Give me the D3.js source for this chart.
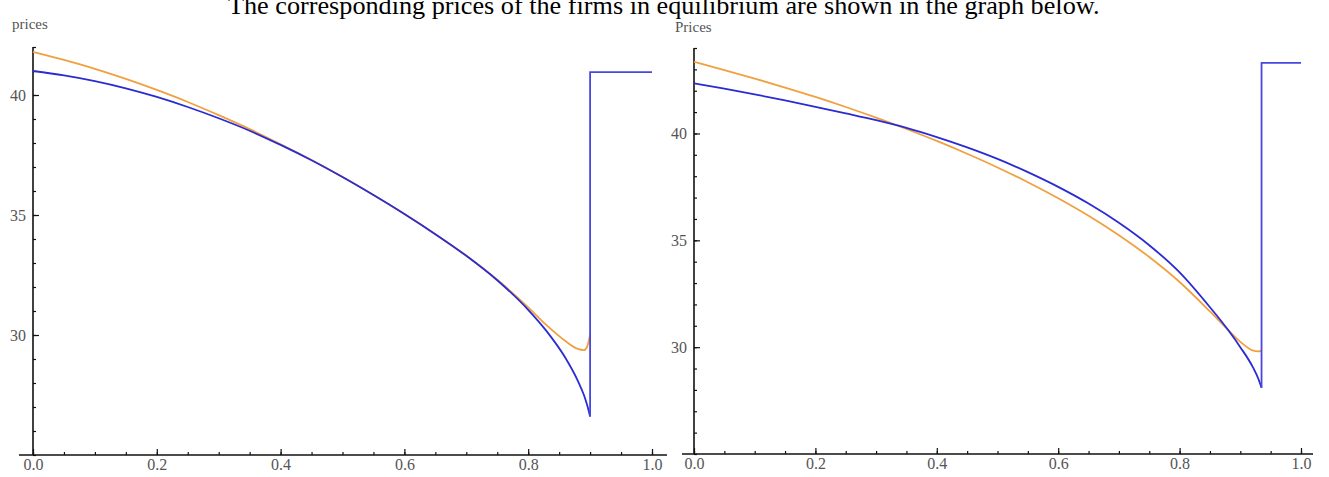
<!DOCTYPE html>
<html>
<head>
<meta charset="utf-8">
<script src="https://cdn.jsdelivr.net/npm/d3@7"></script>
<style>
  body { margin: 0; background: #fff; }
  svg { display: block; }
  .tick text { font-family: "Liberation Serif", "Times New Roman", serif; fill: #555; }
</style>
</head>
<body>
<div id="chart"></div>
<script>
// chart data

var titleText = 'The corresponding prices of the firms in equilibrium are shown in the graph below.';

var xMajor = [0, 0.2, 0.4, 0.6, 0.8, 1.0];

// left panel
var leftX      = [0, 0.05, 0.1, 0.15, 0.2, 0.25, 0.3, 0.35, 0.4, 0.45, 0.5, 0.55, 0.6, 0.65, 0.7, 0.75, 0.8, 0.83, 0.86, 0.88, 0.89, 0.895, 0.9];
var leftOrange = [41.8, 41.46, 41.09, 40.67, 40.21, 39.71, 39.16, 38.58, 37.95, 37.29, 36.58, 35.83, 35.04, 34.2, 33.3, 32.3, 31.15, 30.4, 29.75, 29.42, 29.37, 29.5, 30.0];
var leftBlue   = [41.0, 40.82, 40.58, 40.28, 39.92, 39.5, 39.03, 38.51, 37.92, 37.28, 36.58, 35.83, 35.04, 34.2, 33.3, 32.28, 31.05, 30.15, 29.05, 28.1, 27.5, 27.1, 26.6];
var leftJump   = { x: 0.9, high: 40.95 };
var leftYMajor = [30, 35, 40];

// right panel
var rightX      = [0, 0.05, 0.1, 0.15, 0.2, 0.25, 0.3, 0.35, 0.4, 0.45, 0.5, 0.55, 0.6, 0.65, 0.7, 0.75, 0.8, 0.85, 0.88, 0.9, 0.92, 0.93, 0.935];
var rightOrange = [43.35, 42.97, 42.57, 42.15, 41.71, 41.24, 40.74, 40.21, 39.65, 39.05, 38.41, 37.72, 36.97, 36.15, 35.24, 34.22, 33.05, 31.67, 30.8, 30.25, 29.85, 29.8, 29.85];
var rightBlue   = [42.35, 42.1, 41.83, 41.55, 41.25, 40.94, 40.62, 40.26, 39.83, 39.35, 38.81, 38.19, 37.5, 36.72, 35.82, 34.77, 33.5, 31.87, 30.8, 30.0, 29.1, 28.5, 28.1];
var rightJump   = { x: 0.935, high: 43.3 };
var rightYMajor = [30, 35, 40];

var W = 1329, H = 477;
var BLUE = '#2b2bd2', ORANGE = '#f0a040';
var SERIF = '"Liberation Serif", "Times New Roman", serif';

var svg = d3.select('#chart').append('svg')
    .attr('width', W)
    .attr('height', H);

// title, cut off at the top edge like in the scan
var title = svg.append('text')
    .attr('x', 228)
    .attr('y', 14)
    .attr('font-family', SERIF)
    .attr('font-size', 26)
    .attr('fill', '#000')
    .text(titleText);
// stretch to the width it has in the scan (228 .. 1100)
var tw = title.node().getComputedTextLength();
title.attr('font-size', 26 * 872 / tw);

drawPanel({
    label: 'prices', labelX: 12, labelY: 29,
    xRange: [33, 652], axisLeft: 19, axisRight: 667,
    yDomain: [25, 42], yRange: [455, 47],
    xs: leftX, orange: leftOrange, blue: leftBlue, jump: leftJump,
    yMajor: leftYMajor
});

drawPanel({
    label: 'Prices', labelX: 675, labelY: 32,
    xRange: [694, 1301], axisLeft: 682, axisRight: 1313,
    yDomain: [25, 44], yRange: [454, 48],
    xs: rightX, orange: rightOrange, blue: rightBlue, jump: rightJump,
    yMajor: rightYMajor
});

function drawPanel(p) {
    var x = d3.scaleLinear().domain([0, 1]).range(p.xRange);
    var y = d3.scaleLinear().domain(p.yDomain).range(p.yRange);
    var x0 = x(0), y0 = y(p.yDomain[0]);

    var g = svg.append('g');

    // minor ticks first, majors on top
    var xMinor = d3.range(0, 1.0001, 0.05).map(function (v) { return +v.toFixed(2); });
    var yMinor = d3.range(Math.ceil(p.yDomain[0]), p.yDomain[1] + 0.001, 1);

    g.append('g')
        .attr('transform', 'translate(0,' + y0 + ')')
        .call(d3.axisBottom(x).tickValues(xMinor).tickSize(-3).tickFormat(''))
        .call(cleanAxis);

    g.append('g')
        .attr('transform', 'translate(0,' + y0 + ')')
        .call(d3.axisBottom(x).tickValues(xMajor).tickSize(-6).tickPadding(4)
            .tickFormat(d3.format('.1f')))
        .call(cleanAxis)
        .selectAll('text')
        .attr('font-size', 16);

    g.append('g')
        .attr('transform', 'translate(' + x0 + ',0)')
        .call(d3.axisLeft(y).tickValues(yMinor).tickSize(-3).tickFormat(''))
        .call(cleanAxis);

    g.append('g')
        .attr('transform', 'translate(' + x0 + ',0)')
        .call(d3.axisLeft(y).tickValues(p.yMajor).tickSize(-6).tickPadding(7)
            .tickFormat(d3.format('d')))
        .call(cleanAxis)
        .selectAll('text')
        .attr('font-size', 16);

    // axis lines, mathematica style (crossing at the origin)
    g.append('line')
        .attr('x1', p.axisLeft).attr('x2', p.axisRight)
        .attr('y1', y0).attr('y2', y0)
        .attr('stroke', '#111').attr('stroke-width', 1.6);
    g.append('line')
        .attr('x1', x0).attr('x2', x0)
        .attr('y1', y(p.yDomain[1])).attr('y2', y0)
        .attr('stroke', '#111').attr('stroke-width', 1.6);

    g.append('text')
        .attr('x', p.labelX)
        .attr('y', p.labelY)
        .attr('font-family', SERIF)
        .attr('font-size', 15)
        .attr('fill', '#555')
        .text(p.label);

    var line = d3.line()
        .x(function (d) { return x(d[0]); })
        .y(function (d) { return y(d[1]); })
        .curve(d3.curveMonotoneX);

    var blueData = p.xs.map(function (v, i) { return [v, p.blue[i]]; });
    var orangeData = p.xs.map(function (v, i) { return [v, p.orange[i]]; });
    var last = p.blue[p.blue.length - 1];
    var stepData = [[p.jump.x, last], [p.jump.x, p.jump.high], [1, p.jump.high]];

    g.append('path')
        .attr('d', line(orangeData))
        .attr('fill', 'none')
        .attr('stroke', ORANGE)
        .attr('stroke-width', 1.8);

    g.append('path')
        .attr('d', line(blueData))
        .attr('fill', 'none')
        .attr('stroke', BLUE)
        .attr('stroke-width', 1.8);

    g.append('path')
        .attr('d', d3.line()
            .x(function (d) { return x(d[0]); })
            .y(function (d) { return y(d[1]); })(stepData))
        .attr('fill', 'none')
        .attr('stroke', '#4848e0')
        .attr('stroke-width', 1.8);
}

function cleanAxis(sel) {
    sel.select('.domain').remove();
    sel.selectAll('.tick line')
        .attr('stroke', '#111')
        .attr('stroke-width', 1.2);
}
</script>
</body>
</html>
